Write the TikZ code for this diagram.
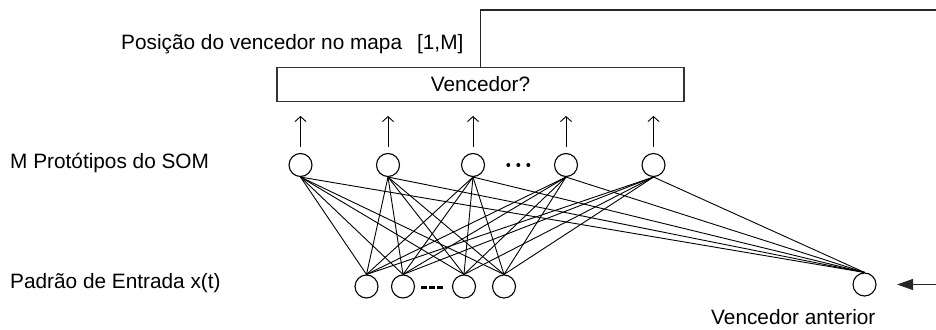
\documentclass[tikz,border=0pt]{standalone}
\usepackage{fontspec}
\setmainfont{Liberation Sans}
\usetikzlibrary{arrows.meta}
\begin{document}
\begin{tikzpicture}[x=1pt,y=-1pt,
  txt/.style={inner sep=0pt,font=\fontsize{20.8}{24}\selectfont},
  neuron/.style={circle,draw,line width=1.1pt,minimum size=23pt,inner sep=0pt},
  link/.style={line width=0.9pt},
  upflow/.style={line width=0.9pt,-{Straight Barb[length=5pt,width=11pt,line width=0.9pt]},shorten <=6pt,shorten >=14pt},
  decider/.style={draw=black!80,line width=1.3pt,minimum width=407pt,minimum height=34pt,inner sep=0pt,font=\fontsize{20.8}{24}\selectfont}]
  \clip (0,0) rectangle (936,329);
  \useasboundingbox (0,0) rectangle (936,329);

  % labels
  \node[txt,anchor=base west] (lblpos) at (121,49) {Posição do vencedor no mapa\hspace{15pt}[1,M]};
  \node[txt,anchor=base west] (lblproto) at (10,168) {M Protótipos do SOM};
  \node[txt,anchor=base west] (lblin) at (10,288) {Padrão de Entrada x(t)};
  \node[txt,anchor=base west] (lblprev) at (711,324) {Vencedor anterior};

  % winner selection box
  \node[decider] (win) at (480.5,84.3) {Vencedor?};

  % SOM prototypes
  \foreach \i/\x in {1/300.5,2/388,3/473,4/566,5/653.5}
    \node[neuron] (p\i) at (\x,165) {};
  \foreach \x in {508.3,518.3,528.3}
    \fill (\x,165) circle (2pt);

  % input pattern and previous winner
  \foreach \i/\x in {1/366.5,2/403,3/464,4/504}
    \node[neuron] (u\i) at (\x,286.5) {};
  \node[neuron] (prev) at (864.5,284.5) {};
  \draw[line width=2.6pt,dash pattern=on 6pt off 2pt] (421,287.3) -- (443,287.3);

  % full connections
  \foreach \i in {1,...,5}{
    \foreach \j in {1,...,4}
      \draw[link] (p\i.south) -- (u\j.north);
    \draw[link] (p\i.south) -- (prev.north);
  }

  % prototype outputs to the winner box
  \foreach \i in {1,...,5}
    \draw[upflow] (p\i.north) -- (p\i.north |- win.south);

  % feedback of the winner position
  \coordinate (fbtop) at (950,10);
  \draw[line width=1.1pt,draw=black!85,-{Triangle[length=16pt,width=11pt]},shorten >=20.5pt]
    (win.north) |- (fbtop) |- (prev.east);
\end{tikzpicture}
\end{document}
